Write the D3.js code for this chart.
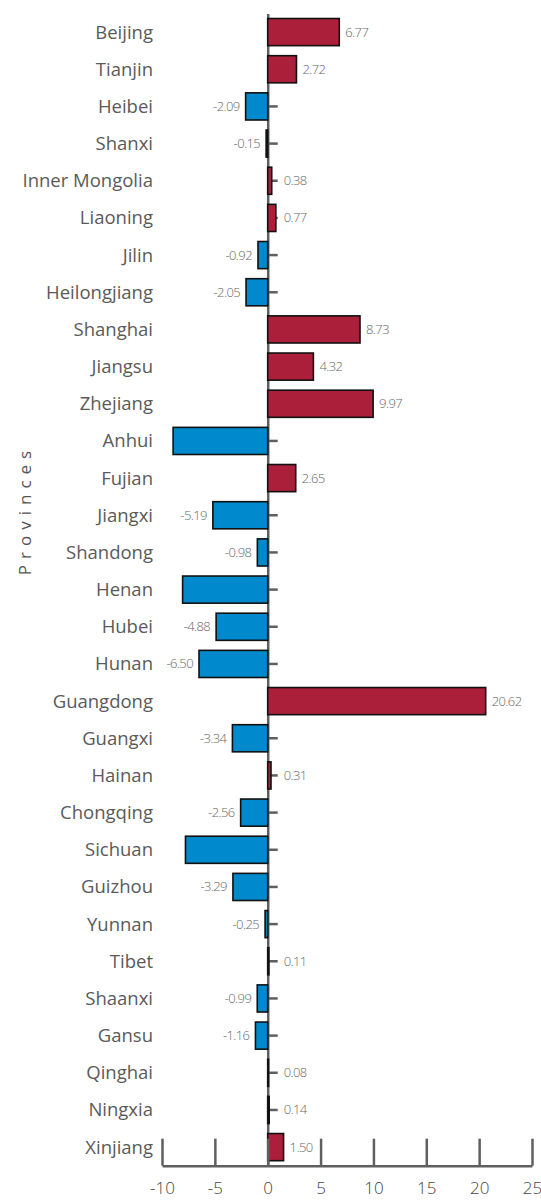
<!DOCTYPE html>
<html>
<head>
<meta charset="utf-8">
<script src="https://cdn.jsdelivr.net/npm/d3@7"></script>
<style>
  body { margin: 0; background: #fff; }
  svg text { font-family: "Open Sans", "Segoe UI", sans-serif; }
</style>
</head>
<body>
<div id="app"></div>
<script>
// Province categories, top to bottom
const provinces = ['Beijing', 'Tianjin', 'Heibei', 'Shanxi', 'Inner Mongolia', 'Liaoning', 'Jilin',
    'Heilongjiang', 'Shanghai', 'Jiangsu', 'Zhejiang', 'Anhui', 'Fujian', 'Jiangxi', 'Shandong',
    'Henan', 'Hubei', 'Hunan', 'Guangdong', 'Guangxi', 'Hainan', 'Chongqing', 'Sichuan', 'Guizhou',
    'Yunnan', 'Tibet', 'Shaanxi', 'Gansu', 'Qinghai', 'Ningxia', 'Xinjiang'];

// Values (Anhui, Henan, Sichuan)
const values = [6.77, 2.72, -2.09, -0.15, 0.38, 0.77, -0.92,
    -2.05, 8.73, 4.32, 9.97, -8.95, 2.65, -5.19, -0.98,
    -8.05, -4.88, -6.50, 20.62, -3.34, 0.31, -2.56, -7.78, -3.29,
    -0.25, 0.11, -0.99, -1.16, 0.08, 0.14, 1.50];

const xTicks = [-10, -5, 0, 5, 10, 15, 20, 25];

const data = provinces.map((p, i) => ({ name: p, value: values[i] }));

const width = 541;
const height = 1202;
const margin = { top: 13.5, right: 9, bottom: 36.3, left: 162 };

const svg = d3.select('#app').append('svg')
    .attr('width', width)
    .attr('height', height);

const x = d3.scaleLinear()
    .domain([-10, 25])
    .range([margin.left, width - margin.right]);

const y = d3.scaleBand()
    .domain(provinces)
    .range([margin.top, height - margin.bottom])
    .paddingInner(0.27)
    .paddingOuter(0.135);

const axisColor = '#5f5f5f';
const tickLen = 10;

// Vertical zero axis with ticks pointing right
const yAxis = svg.append('g')
    .attr('transform', `translate(${x(0)},0)`)
    .call(d3.axisRight(y).tickSize(tickLen).tickSizeOuter(0).tickFormat(''));
yAxis.selectAll('.domain, .tick line')
    .attr('stroke', axisColor)
    .attr('stroke-width', 2.5);

// Bars
svg.append('g')
    .selectAll('rect')
    .data(data)
    .join('rect')
    .attr('x', d => x(Math.min(0, d.value)))
    .attr('y', d => y(d.name))
    .attr('width', d => Math.abs(x(d.value) - x(0)))
    .attr('height', y.bandwidth())
    .attr('fill', d => d.value >= 0 ? '#ab1f3b' : '#0089cc')
    .attr('stroke', '#111')
    .attr('stroke-width', 1.6);

// Category labels
svg.append('g')
    .selectAll('text')
    .data(data)
    .join('text')
    .attr('x', 153)
    .attr('y', d => y(d.name) + y.bandwidth() / 2)
    .attr('dy', '0.35em')
    .attr('text-anchor', 'end')
    .attr('fill', '#5a5a5a')
    .attr('font-size', '18.5px')
    .text(d => d.name);

// Value labels; positive ones clear the tick mark, negative ones that
// would run into the category labels are dropped
const valueLabels = svg.append('g')
    .selectAll('text')
    .data(data)
    .join('text')
    .attr('x', d => d.value >= 0 ? Math.max(x(d.value), x(0) + tickLen) + 6 : x(d.value) - 6)
    .attr('y', d => y(d.name) + y.bandwidth() / 2)
    .attr('dy', '0.35em')
    .attr('text-anchor', d => d.value >= 0 ? 'start' : 'end')
    .attr('fill', '#666')
    .attr('font-size', '13px')
    .attr('font-weight', 300)
    .attr('letter-spacing', '-0.6px')
    .text(d => d.value.toFixed(2));

valueLabels.each(function (d) {
    if (d.value < 0) {
        const left = x(d.value) - 6 - this.getComputedTextLength();
        if (left < 156) d3.select(this).remove();
    }
});

// Bottom axis, ticks pointing up
const xAxis = svg.append('g')
    .attr('transform', `translate(0,${height - margin.bottom})`)
    .call(d3.axisBottom(x).tickValues(xTicks).tickSize(-27).tickSizeOuter(0)
        .tickPadding(16).tickFormat(d => String(d)));
xAxis.selectAll('.domain, .tick line')
    .attr('stroke', axisColor)
    .attr('stroke-width', 2.5);
xAxis.selectAll('text')
    .attr('fill', '#444')
    .attr('font-size', '17px')
    .attr('font-weight', 300)
    .style('font-family', '"Open Sans", sans-serif');

// Axis title
svg.append('text')
    .attr('transform', 'translate(31,510) rotate(-90)')
    .attr('text-anchor', 'middle')
    .attr('fill', '#555')
    .attr('font-size', '17px')
    .attr('letter-spacing', '6px')
    .text('Provinces');
</script>
</body>
</html>
